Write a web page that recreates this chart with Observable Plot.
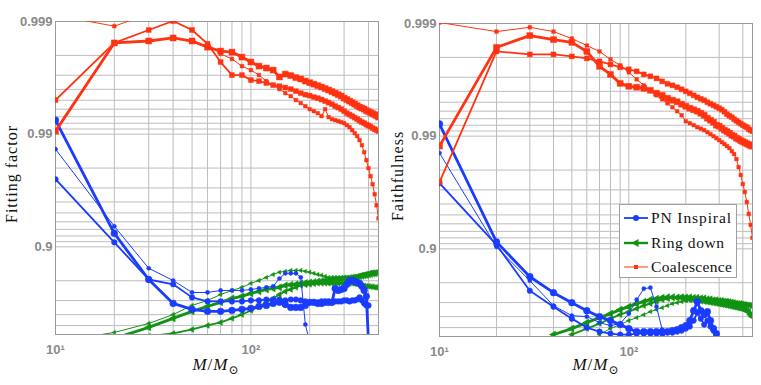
<!DOCTYPE html>
<html><head><meta charset="utf-8">
<script src="https://cdn.jsdelivr.net/npm/d3@7"></script>
<script src="https://cdn.jsdelivr.net/npm/@observablehq/plot@0.6"></script>
<style>
html,body{margin:0;padding:0;background:#fff;}
#wrap{position:relative;width:761px;height:385px;overflow:hidden;font-family:"Liberation Serif","DejaVu Serif",serif;}
.panel{position:absolute;top:0;}
.ytitle{position:absolute;transform:translate(-50%,-50%) rotate(-90deg);font-size:16px;letter-spacing:1px;white-space:nowrap;color:#111;}
.xtitle{position:absolute;transform:translateX(-50%);font-size:17px;white-space:nowrap;color:#111;top:355px;letter-spacing:1px;}
.xtitle i{font-style:italic;}
.xtitle sub{font-size:12px;font-style:normal;vertical-align:-4px;line-height:0;}
#legend{position:absolute;left:619px;top:204px;width:116px;height:72px;border:1px solid #a0a0a0;background:#fff;}
</style>
</head><body>
<div id="wrap">
  <div id="left" class="panel" style="left:0px"></div>
  <div id="right" class="panel" style="left:380px"></div>
  <div class="ytitle" style="left:12px;top:174px">Fitting factor</div>
  <div class="ytitle" style="left:398px;top:176px">Faithfulness</div>
  <div class="xtitle" style="left:216px"><i>M</i>/<i>M</i><sub>⊙</sub></div>
  <div class="xtitle" style="left:596px"><i>M</i>/<i>M</i><sub>⊙</sub></div>
  <div id="legend"></div>
</div>
<script>
// ---------- data ----------
const masses = [10,20,30,40,50,60,70,80,90,100,110,120,130,140,150,160,170,180,190,200,210,220,230,240,250,260,270,280,290,300,310,320,330,340,350,360,370,380,390,400,410,420,430,440,450];

// Left panel: Fitting factor
const leftInspiralThin = [0.9864,0.9343,0.845,0.801,0.746,0.746,0.756,0.756,0.756,0.761,0.766,0.771,0.776,0.809,0.828,0.828,0.828,0.813,0.511,0.3]; // from M=10
const leftInspiralMedium = [0.9749,0.9088,0.805,0.785,0.719,0.695,0.695,0.695,0.695,0.701,0.701,0.707,0.707,0.707,0.701,0.707,0.707,0.701,0.695,0.689,0.689,0.689,0.695,0.695,0.695,0.689,0.695,0.695,0.695,0.701,0.701,0.695,0.701,0.701,0.707,0.719,0.701,0.682,0.669,0.669]; // from M=10
const leftInspiralThick = [0.9925,0.9241,0.805,0.682,0.641,0.626,0.626,0.633,0.641,0.648,0.662,0.669,0.682,0.689,0.675,0.655,0.655,0.655,0.669,0.689,0.689,0.682,0.682,0.689,0.689,0.689,0.766,0.756,0.761,0.766,0.785,0.801,0.801,0.797,0.793,0.789,0.776,0.756,0.725,0.3]; // from M=10
const leftRingThin = [0.3,0.425,0.521,0.601,0.669,0.701,0.735,0.756,0.771,0.789,0.801,0.813,0.824,0.832,0.835,0.838,0.838,0.838,0.835,0.832,0.828,0.824,0.821,0.817,0.813,0.813,0.813,0.813,0.813,0.813,0.813,0.813,0.813,0.817,0.817,0.821,0.824,0.824,0.828,0.828,0.832,0.832,0.832,0.832,0.832]; // from M=10
const leftRingMedium = [0.38,0.413,0.459,0.501,0.531,0.568,0.601,0.633,0.662,0.689,0.713,0.735,0.751,0.761,0.771,0.780,0.783,0.785,0.787,0.789,0.789,0.789,0.789,0.789,0.789,0.789,0.789,0.789,0.789,0.789,0.789,0.787,0.785,0.783,0.780,0.778,0.776,0.776,0.774,0.774,0.771,0.771,0.768]; // from M=30
const leftRingThick = [0.35,0.481,0.568,0.626,0.662,0.689,0.713,0.725,0.741,0.751,0.761,0.766,0.771,0.780,0.783,0.785,0.789,0.791,0.793,0.795,0.797,0.799,0.801,0.801,0.803,0.805,0.805,0.807,0.809,0.809,0.811,0.813,0.813,0.815,0.817,0.819,0.821,0.822,0.824,0.826,0.828,0.828,0.830,0.832]; // from M=20
const leftCoalThin = [0.99912,0.99890,0.99914,0.99901,0.99881,0.99842,0.99806,0.99785,0.99751,0.99730,0.99701,0.99662,0.99633,0.99602,0.99568,0.99540,0.99502,0.99470,0.99436,0.99400,0.99375,0.99349,0.99308,0.99400,0.99294,0.99264,0.99249,0.99234,0.99218,0.99202,0.99168,0.99133,0.99079,0.99020,0.98958,0.98869,0.98747,0.98555,0.98298,0.97995,0.97638,0.97217,0.96585,0.95724,0.94420];
const leftCoalMedium = [0.99502,0.99845,0.99881,0.99901,0.99881,0.99842,0.99771,0.99701,0.99701,0.99669,0.99662,0.99648,0.99633,0.99625,0.99614,0.99602,0.99585,0.99568,0.99554,0.99545,0.99531,0.99521,0.99507,0.99491,0.99475,0.99458,0.99436,0.99419,0.99400,0.99375,0.99349,0.99329,0.99308,0.99286,0.99264,0.99241,0.99218,0.99202,0.99177,0.99160,0.99142,0.99116,0.99097,0.99079,0.99060];
const leftCoalThick = [0.9906,0.99845,0.99851,0.99860,0.99851,0.99831,0.99817,0.99813,0.99793,0.99771,0.99751,0.99741,0.99730,0.99689,0.99707,0.99698,0.99685,0.99676,0.99662,0.99651,0.99640,0.99629,0.99618,0.99606,0.99594,0.99581,0.99568,0.99554,0.99541,0.99521,0.99507,0.99491,0.99475,0.99459,0.99442,0.99425,0.99413,0.99400,0.99382,0.99369,0.99356,0.99342,0.99329,0.99315,0.99294];

// Right panel: Faithfulness
const rightInspiralThin = [0.9859,0.9040,0.8080,0.6805,0.6083,0.6002,0.5482,0.5198,0.5390,0.6239,0.7173,0.7741,0.7786,0.6739,0.4790,0.3]; // from M=10
const rightInspiralMedium = [0.9739,0.9078,0.7647,0.6739,0.5835,0.4998,0.4573,0.4348,0.4231,0.4231,0.4348,0.4348,0.4348,0.4348,0.4348,0.4461,0.4461,0.4573,0.4683,0.4895,0.5100,0.5663,0.6314,0.5835,0.5295,0.5663,0.5100,0.4683,0.4231]; // from M=10
const rightInspiralThick = [0.9922,0.9133,0.8231,0.7549,0.6995,0.6461,0.6002,0.5663,0.5295,0.4895,0.4573,0.4573,0.4573,0.4573,0.4573,0.4573,0.4683,0.4790,0.4998,0.5198,0.5663,0.6461,0.7056,0.6461,0.6162,0.6389,0.5663,0.4895,0.4348]; // from M=10
const rightRingThin = [0.4231,0.4895,0.5295,0.5663,0.5919,0.6162,0.6389,0.6534,0.6672,0.6805,0.6933,0.6995,0.7056,0.7115,0.7144,0.7173,0.7201,0.7201,0.7230,0.7230,0.7230,0.7201,0.7201,0.7173,0.7173,0.7144,0.7144,0.7115,0.7086,0.7056,0.7026,0.6995,0.6995,0.6964,0.6933,0.6902,0.6870,0.6838,0.6805]; // from M=70
const rightRingMedium = [0.4231,0.4895,0.5390,0.5835,0.6162,0.6389,0.6604,0.6805,0.6933,0.7056,0.7173,0.7230,0.7286,0.7313,0.7340,0.7340,0.7340,0.7313,0.7313,0.7286,0.7286,0.7230,0.7230,0.7173,0.7173,0.7115,0.7115,0.7056,0.7056,0.6995,0.6995,0.6933,0.6933,0.6902,0.6902,0.6870,0.6870,0.6838,0.6838,0.6805,0.6805]; // from M=50
const rightRingThick = [0.4231,0.4895,0.5482,0.5919,0.6239,0.6534,0.6739,0.6933,0.7056,0.7173,0.7230,0.7286,0.7313,0.7313,0.7286,0.7286,0.7230,0.7201,0.7173,0.7144,0.7115,0.7086,0.7056,0.7026,0.6995,0.6964,0.6933,0.6902,0.6870,0.6838,0.6805,0.6772,0.6739,0.6706,0.6672,0.6638,0.6604,0.6534,0.6461,0.6389,0.6162,0.6002]; // from M=40
const rightCoalThin = [0.99902,0.99882,0.99892,0.99882,0.99864,0.99843,0.99823,0.99792,0.99765,0.99729,0.99687,0.99646,0.99608,0.99566,0.99529,0.99489,0.99446,0.99399,0.99348,0.99263,0.99233,0.99201,0.99167,0.99142,0.99115,0.99078,0.99040,0.99000,0.98958,0.98915,0.98870,0.98823,0.98774,0.98723,0.98642,0.98557,0.98402,0.98119,0.97786,0.97341,0.96870,0.96162,0.95100,0.93867,0.92010];
const rightCoalMedium = [0.97447,0.99823,0.99812,0.99812,0.99804,0.99796,0.99783,0.99769,0.99755,0.99745,0.99734,0.99717,0.99706,0.99693,0.99674,0.99657,0.99646,0.99632,0.99616,0.99600,0.99584,0.99566,0.99548,0.99534,0.99520,0.99500,0.99484,0.99468,0.99452,0.99435,0.99417,0.99393,0.99361,0.99341,0.99321,0.99293,0.99271,0.99248,0.99225,0.99201,0.99184,0.99167,0.99133,0.99115,0.99097];
const rightCoalThick = [0.98774,0.99837,0.99872,0.99861,0.99853,0.99823,0.99760,0.99717,0.99660,0.99639,0.99632,0.99624,0.99608,0.99584,0.99566,0.99539,0.99520,0.99505,0.99479,0.99457,0.99435,0.99417,0.99399,0.99374,0.99348,0.99307,0.99278,0.99248,0.99201,0.99184,0.99150,0.99115,0.99088,0.99059,0.99020,0.99000,0.98958,0.98937,0.98904,0.98882,0.98858,0.98835,0.98811,0.98786,0.98774];

// axes / grid
const xGridMasses = [10,20,30,40,50,60,70,80,90,100,200,300,400];
const xTickValues = [10,100];
const xTickLabels = ["10\u00B9","10\u00B2"];
const yGridValues = [0.5,0.6,0.7,0.8,0.9,0.91,0.92,0.93,0.94,0.95,0.96,0.97,0.98,0.99,0.991,0.992,0.993,0.994,0.995,0.996,0.997,0.998,0.999];
const yTickValues = [0.5,0.9,0.99,0.999];
const yTickLabels = ["0.5","0.9","0.99","0.999"];
const legendLabels = ["PN Inspiral","Ring down","Coalescence"];

// ---------- styles ----------
const triLeft = {draw(ctx, size){
  const a = Math.sqrt(size*4/Math.sqrt(3)), h = a*Math.sqrt(3)/2;
  ctx.moveTo(-2*h/3, 0); ctx.lineTo(h/3, -a/2); ctx.lineTo(h/3, a/2); ctx.closePath();
}};
const kinds = {
  inspiral: {color:"#1a3cff", symbol:"circle", rk:1},
  ring: {color:"#129212", symbol:triLeft, rk:0.78},
  coal: {color:"#ff3311", symbol:"square", rk:1}
};
const weights = {thin:{sw:1, r:2.1}, medium:{sw:1.8, r:2.8}, thick:{sw:2.8, r:3.4}};

function rows(values, startMass){
  const i0 = masses.indexOf(startMass);
  return values.map((F,i) => ({M: masses[i0+i], mis: 1 - F}));
}

const leftSeries = [
  ["ring","thin",leftRingThin,10],["ring","medium",leftRingMedium,30],["ring","thick",leftRingThick,20],
  ["inspiral","thin",leftInspiralThin,10],["inspiral","medium",leftInspiralMedium,10],["inspiral","thick",leftInspiralThick,10],
  ["coal","thin",leftCoalThin,10],["coal","medium",leftCoalMedium,10],["coal","thick",leftCoalThick,10]
];
const rightSeries = [
  ["ring","thin",rightRingThin,70],["ring","medium",rightRingMedium,50],["ring","thick",rightRingThick,40],
  ["inspiral","thin",rightInspiralThin,10],["inspiral","medium",rightInspiralMedium,10],["inspiral","thick",rightInspiralThick,10],
  ["coal","thin",rightCoalThin,10],["coal","medium",rightCoalMedium,10],["coal","thick",rightCoalThick,10]
];

const yTickMis = yTickValues.map(f => 1 - f);

function panel(series, w, ml, mr, mt, mb){
  const marks = [
    Plot.ruleX(xGridMasses, {stroke:"#bdbdbd", strokeWidth:1}),
    Plot.ruleY(yGridValues.map(f => 1 - f), {stroke:"#bdbdbd", strokeWidth:1}),
    Plot.frame({stroke:"#999", strokeWidth:1})
  ];
  for (const [k, wt, vals, start] of series) {
    const st = kinds[k], ww = weights[wt];
    const data = rows(vals, start);
    marks.push(Plot.line(data, {x:"M", y:"mis", stroke:st.color, strokeWidth:ww.sw, clip:true}));
    marks.push(Plot.dot(data, {x:"M", y:"mis", symbol:st.symbol, r:ww.r*st.rk, fill:st.color, stroke:st.color, strokeWidth:0.4, clip:true}));
  }
  return Plot.plot({
    width:w, height:385, marginLeft:ml, marginRight:mr, marginTop:mt, marginBottom:mb,
    style:{background:"transparent", fontFamily:"'Liberation Sans', Arial, sans-serif", fontSize:"13px", fontWeight:"bold", color:"#8a8a8a"},
    x:{type:"log", domain:[10,450], ticks:xTickValues, tickFormat:d => xTickLabels[xTickValues.indexOf(d)], tickSize:0, tickPadding:10, label:null},
    y:{type:"log", domain:[0.6,0.001], ticks:yTickMis, tickFormat:d => yTickLabels[yTickMis.indexOf(d)], tickSize:0, tickPadding:3, label:null},
    marks
  });
}

document.getElementById("left").appendChild(panel(leftSeries, 380, 55, 2, 21, 51));
document.getElementById("right").appendChild(panel(rightSeries, 381, 59, 9, 23, 49));

// legend
const lg = [
  {kind:"inspiral", sw:1.8, r:3, len:80},
  {kind:"ring", sw:2.4, r:2.8, len:73},
  {kind:"coal", sw:1, r:2, len:81}
];
const ys = [13, 38, 62];
let svg = '<svg width="116" height="72" xmlns="http://www.w3.org/2000/svg">';
lg.forEach((d,i) => {
  const c = kinds[d.kind].color, y = ys[i];
  svg += `<line x1="4" x2="28" y1="${y}" y2="${y}" stroke="${c}" stroke-width="${d.sw}"/>`;
  if (d.kind === "inspiral") svg += `<circle cx="16" cy="${y}" r="${d.r}" fill="${c}"/>`;
  if (d.kind === "ring") svg += `<path d="M${16-4.5},${y} L${16+2.5},${y-4} L${16+2.5},${y+4} Z" fill="${c}"/>`;
  if (d.kind === "coal") svg += `<rect x="${16-2}" y="${y-2}" width="4" height="4" fill="${c}"/>`;
  svg += `<text x="31" y="${y}" dy="0.35em" font-family="'Liberation Serif', serif" font-size="15.5" textLength="${d.len}" lengthAdjust="spacing" fill="#111">${legendLabels[i]}</text>`;
});
svg += '</svg>';
document.getElementById("legend").innerHTML = svg;
</script>
</body></html>
